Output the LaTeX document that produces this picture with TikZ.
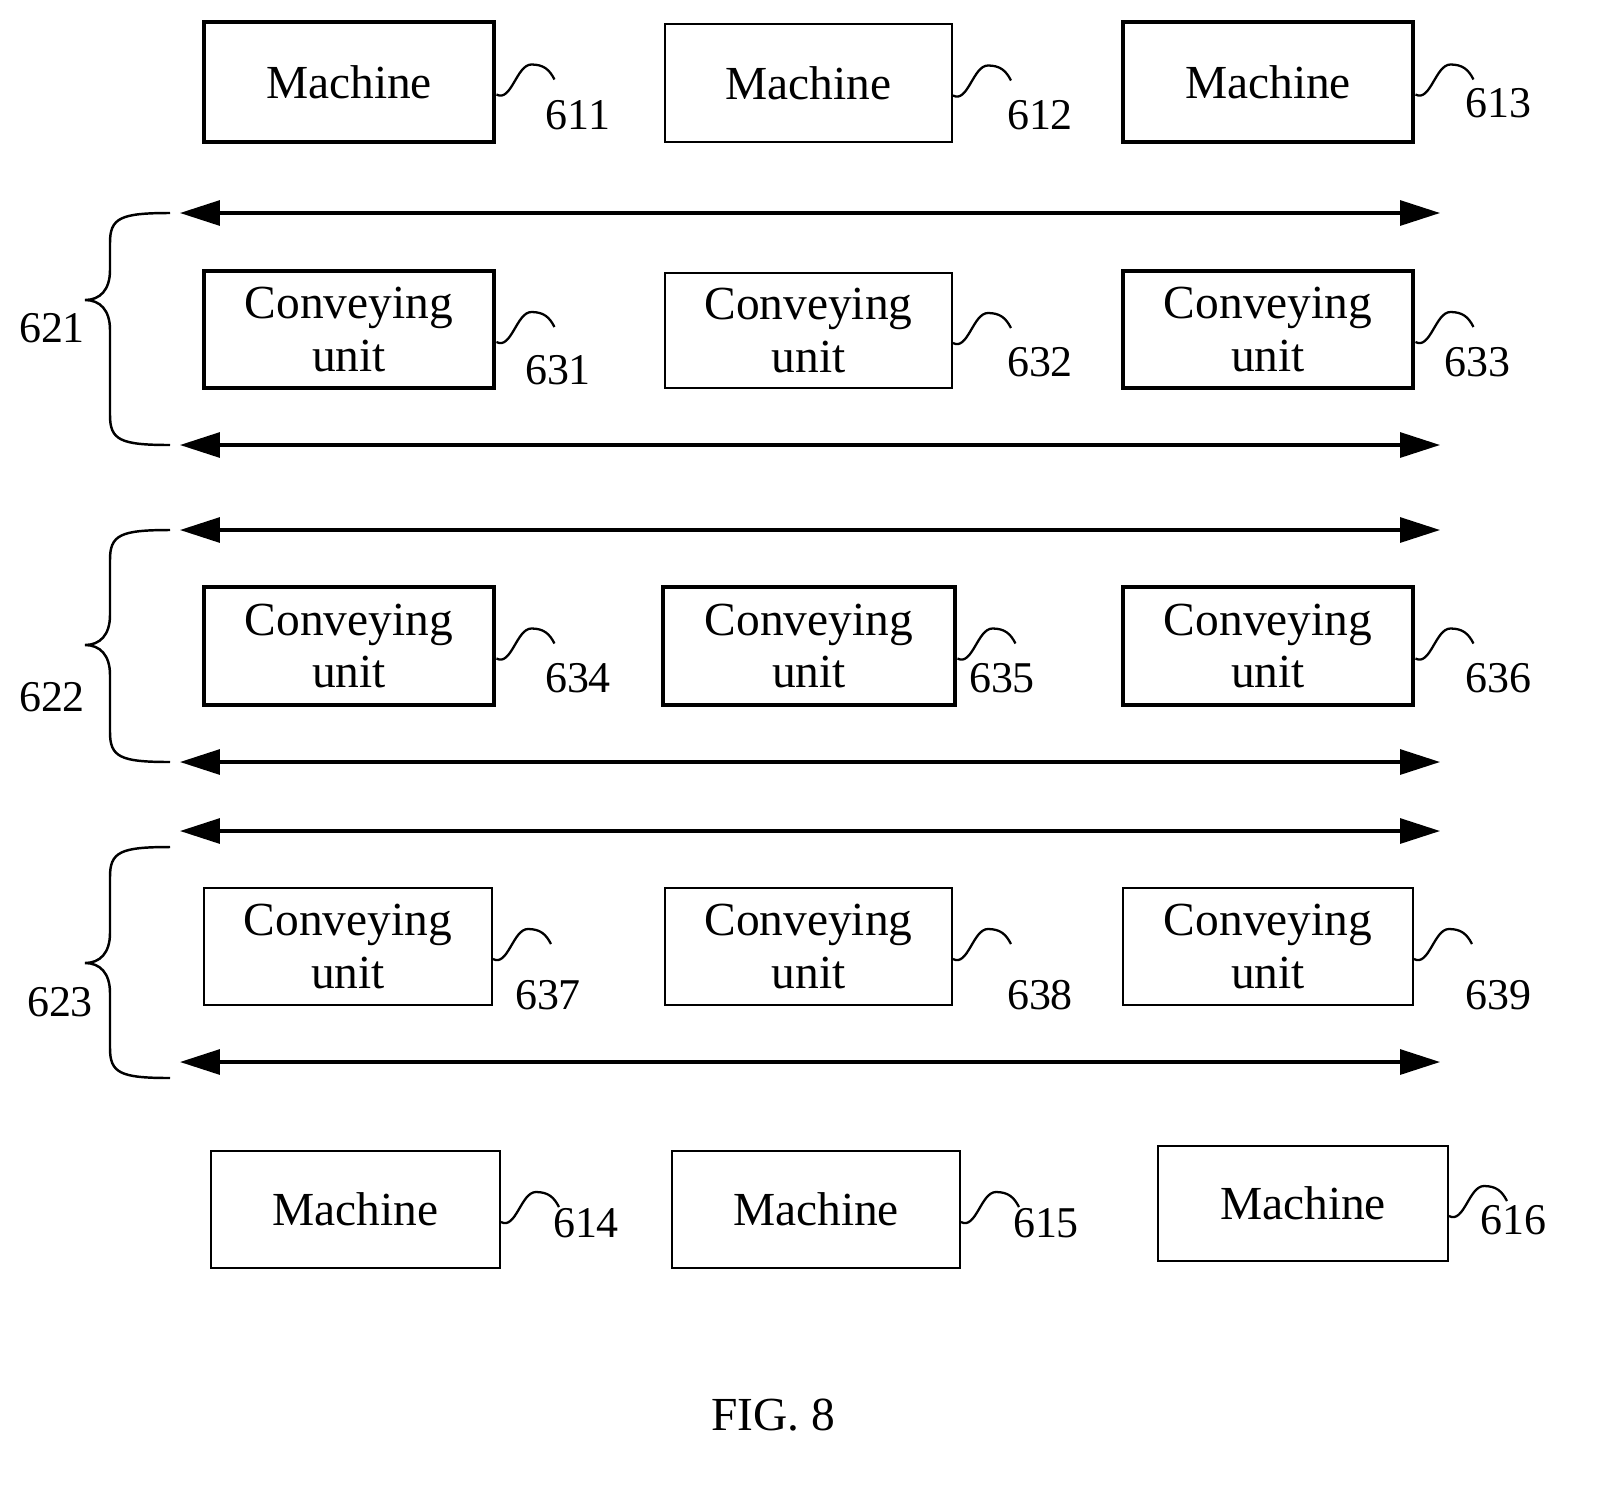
\documentclass[tikz,border=0pt]{standalone}
\usepackage{fontspec}
\setmainfont{Liberation Serif}
\usetikzlibrary{arrows.meta}
\begin{document}
\begin{tikzpicture}[x={(0.02cm,0)},y={(0,-0.02cm)},
  box/.style={draw,line width=1.1pt,font=\fontsize{27}{27}\selectfont,align=center,inner sep=0},
  thick box/.style={box,line width=2.8pt},
  lab/.style={font=\fontsize{25}{25}\selectfont,inner sep=0},
  dbl/.style={line width=1.8pt,{Triangle[length=0.8cm,width=0.5cm]}-{Triangle[length=0.8cm,width=0.5cm]}},
  sq/.style={line width=1.3pt},
  br/.style={line width=1.4pt}]
\useasboundingbox (0,0) rectangle (1602,1485);
\newcommand\bx[7]{\node[#6,minimum width={(#4-#2)*0.02cm},minimum height={(#5-#3)*0.02cm}] (#1) at ({(#2+#4)/2},{(#3+#5)/2}) {#7};}
\newcommand\wig[4]{%
  \coordinate (w#2) at ([yshift=-0.25cm]#1.east);
  \draw[sq] (w#2) .. controls +(15,8) and +(-15,0) .. +(35,-30) .. controls +(12,0) and +(-5,-10) .. +(58,-15);
  \node[lab] (l#2) at (#3,#4) {#2};}
\newcommand\brc[5]{%
  \coordinate (#1t) at (170,#2); \coordinate (#1b) at (170,#4); \coordinate (#1m) at (85,#3);
  \draw[br] (#1t) .. controls (120,#2) and (110,#2+5) .. (110,#2+30) -- (110,#3-30)
     .. controls (110,#3-10) and (100,#3) .. (#1m)
     .. controls (100,#3) and (110,#3+10) .. (110,#3+30) -- (110,#4-30)
     .. controls (110,#4-5) and (120,#4) .. (#1b);
  \node[lab] (#1l) at (#5) {#1};}
\def\cu{Conveying\\[3pt]unit}
% row 1
\bx{m611}{204}{22}{494}{142}{thick box}{Machine}
\bx{m612}{665}{24}{952}{142}{box}{Machine}
\bx{m613}{1123}{22}{1413}{142}{thick box}{Machine}
\wig{m611}{611}{578}{115}\wig{m612}{612}{1040}{115}\wig{m613}{613}{1498}{103}
\foreach \n/\y in {a1/213,a2/445,a3/530,a4/762,a5/831,a6/1062}{
  \coordinate (\n l) at (180,\y); \coordinate (\n r) at (1440,\y);
  \draw[dbl] (\n l) -- (\n r);}
% row 2
\bx{c631}{204}{271}{494}{388}{thick box}{\cu}
\bx{c632}{665}{273}{952}{388}{box}{\cu}
\bx{c633}{1123}{271}{1413}{388}{thick box}{\cu}
\wig{c631}{631}{558}{370}\wig{c632}{632}{1040}{362}\wig{c633}{633}{1477}{362}
% row 3
\bx{c634}{204}{587}{494}{705}{thick box}{\cu}
\bx{c635}{663}{587}{955}{705}{thick box}{\cu}
\bx{c636}{1123}{587}{1413}{705}{thick box}{\cu}
\wig{c634}{634}{578}{678}\wig{c635}{635}{1002}{678}\wig{c636}{636}{1498}{678}
% row 4
\bx{c637}{204}{888}{492}{1005}{box}{\cu}
\bx{c638}{665}{888}{952}{1005}{box}{\cu}
\bx{c639}{1123}{888}{1413}{1005}{box}{\cu}
\wig{c637}{637}{548}{995}\wig{c638}{638}{1040}{995}\wig{c639}{639}{1498}{995}
% row 5
\bx{m614}{211}{1151}{500}{1268}{box}{Machine}
\bx{m615}{672}{1151}{960}{1268}{box}{Machine}
\bx{m616}{1158}{1146}{1448}{1261}{box}{Machine}
\wig{m614}{614}{586}{1223}\wig{m615}{615}{1046}{1223}\wig{m616}{616}{1513}{1220}
\brc{621}{213}{300}{445}{52,328}
\brc{622}{530}{645}{762}{52,697}
\brc{623}{847}{963}{1078}{60,1002}
\node[font=\fontsize{27}{27}\selectfont,inner sep=0] (fig) at (773,1415) {FIG. 8};
\end{tikzpicture}
\end{document}
